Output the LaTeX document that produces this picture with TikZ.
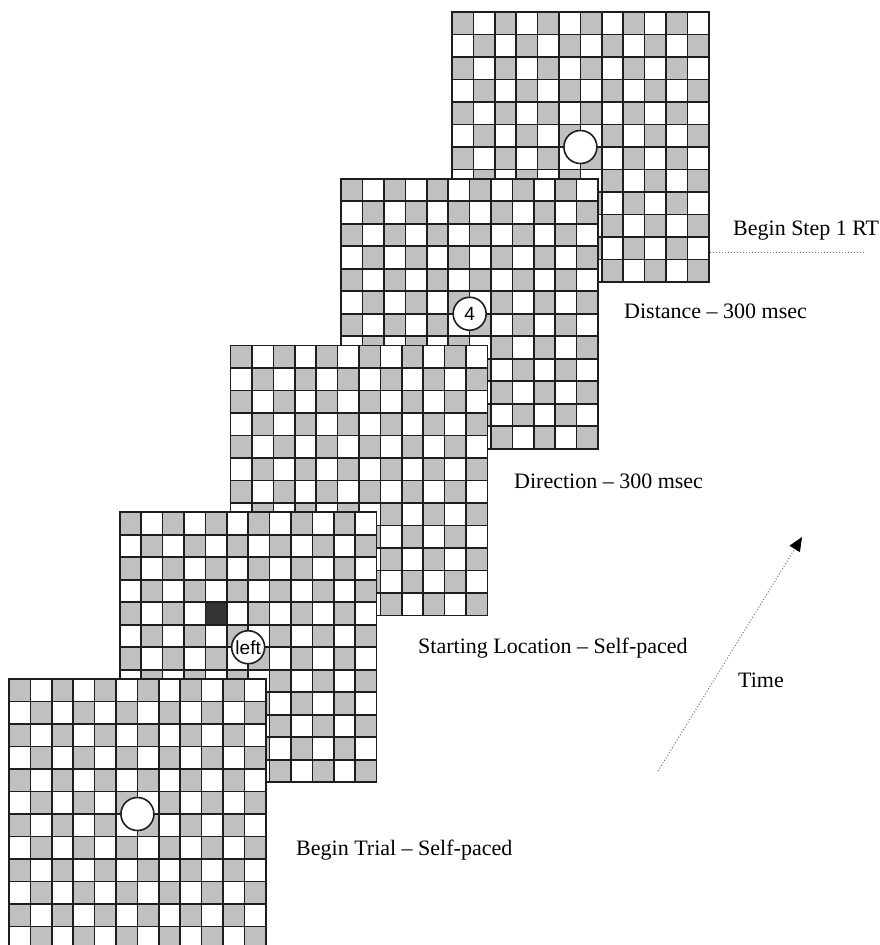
\documentclass[tikz,border=0pt]{standalone}
\usepackage{fontspec}
\setmainfont{Liberation Serif}
\newfontfamily\markfont{Liberation Sans}
\usetikzlibrary{arrows.meta}
\definecolor{cellgray}{HTML}{C0C0C0}
\definecolor{gridline}{HTML}{1E1E1E}
\definecolor{darkcell}{HTML}{333333}
\definecolor{dotgray}{HTML}{707070}
\newcommand{\cw}{21.4}
\newcommand{\ch}{22.5}
% one 12x12 board, top left corner at (#1,#2), centre named #3
\newcommand{\board}[3]{%
  \begin{scope}[shift={(#1,#2)}]
    \fill[white] (0,0) rectangle (12*\cw,12*\ch);
    \foreach \r in {0,...,11}
      \foreach \c in {0,...,11} {
        \pgfmathtruncatemacro{\odd}{mod(\r+\c,2)}
        \ifnum\odd=0 \fill[cellgray] (\c*\cw,\r*\ch) rectangle ++(\cw,\ch); \fi
      }
    \foreach \n in {1,...,11} {
      \draw[gridl] (\n*\cw,0) -- (\n*\cw,12*\ch);
      \draw[gridl] (0,\n*\ch) -- (12*\cw,\n*\ch);
    }
    \draw[gridl] (0,0) rectangle (12*\cw,12*\ch);
    \coordinate (#3) at (6*\cw,6*\ch);
  \end{scope}}
\tikzset{
  gridl/.style={draw=gridline, line width=1.6pt},
  spot/.style={circle, draw=gridline, fill=white, line width=1.6pt, minimum size=33pt,
               inner sep=0pt, font=\markfont\fontsize{19}{19}\selectfont},
  lab/.style={font=\fontsize{22}{26}\selectfont, anchor=base west, inner sep=0pt},
  dotline/.style={dotted, draw=dotgray, line width=1pt},
  timearr/.style={dotline, -{Triangle[length=14pt, width=12pt, color=black]}},
}

\begin{document}
\begin{tikzpicture}[x=1pt, y=-1pt]
    \useasboundingbox (0,0) rectangle (880,945);
    \clip (0,0) rectangle (880,945);
    % boards, back to front
    \board{452}{12}{b4}
    \board{341.25}{178.75}{b3}
    \board{230.5}{345.5}{b2}
    \board{119.75}{512.25}{b1}
    \fill[darkcell] (119.75+4*\cw,512.25+4*\ch) rectangle ++(\cw,\ch);
    \draw[gridl] (119.75+4*\cw,512.25+4*\ch) rectangle ++(\cw,\ch);
    \node[spot] (left) at (b1) {left};
    \node[spot] (four) at (b3) {4};
    \node[spot] (end) at (b4) {};
    \board{9}{679}{b0}
    \node[spot] (start) at (b0) {};
    % labels
    \node[lab] (rt) at (733,235) {Begin Step 1 RT};
    \node[lab] (dist) at (624,318) {Distance – 300 msec};
    \node[lab] (dir) at (514,488) {Direction – 300 msec};
    \node[lab] (loc) at (418,653) {Starting Location – Self-paced};
    \node[lab] (trial) at (296,855) {Begin Trial – Self-paced};
    \node[lab] (time) at (738,687) {Time};
    \coordinate (rt-a) at (709.5,252);
    \coordinate (rt-b) at (865,252);
    \draw[dotline] (rt-a) -- (rt-b);
    \coordinate (t-a) at (658,771);
    \coordinate (t-b) at (802,537);
    \draw[timearr] (t-a) -- (t-b);
\end{tikzpicture}
\end{document}
